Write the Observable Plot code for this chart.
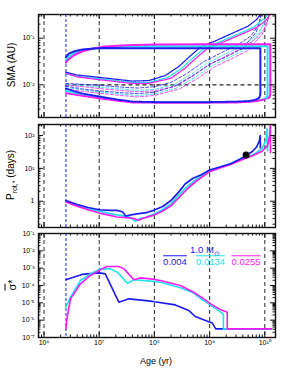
<!DOCTYPE html>
<html><head><meta charset="utf-8">
<script src="https://cdn.jsdelivr.net/npm/d3@7"></script>
<script src="https://cdn.jsdelivr.net/npm/@observablehq/plot@0.6"></script>
<style>
body{margin:0;background:#fff;}
#wrap{position:relative;width:291px;height:376px;overflow:hidden;background:#fff;font-family:"Liberation Sans",Arial,Helvetica,sans-serif;}
#wrap svg{position:absolute;left:0;}
.lab{position:absolute;white-space:nowrap;color:#000;line-height:1;}
.rot{transform:translate(-50%,-50%) rotate(-90deg);}
.ctr{transform:translate(-50%,-50%);}
.ov{text-decoration:overline;}
</style></head><body><div id="wrap"></div>
<script>
// ---------- data (log10 values) ----------
const metallicities = ["0.004", "0.0134", "0.0255"];
const massLabel = "1.0 M";
const decadeLines = [1e6, 1e7, 1e8, 1e9, 1e10];
const pmsAge = 2.5e6;          // blue dashed vertical (disc dispersal)
const smaRef = 0.01;            // horizontal dashed line in top panel
const sunAge = 4.57e9, sunProt = 25.4;
const xTicks = [1e6, 1e7, 1e8, 1e9, 1e10];
const smaTicks = [0.01, 0.1];
const protTicks = [1, 10, 100];
const sigTicks = [1e-7, 1e-6, 1e-5, 1e-4, 1e-3, 1e-2, 1e-1];

// Panel 1: semi-major axis (log10 age, log10 AU)
const bSolidAge = [6.395, 6.45, 6.55, 6.7, 6.9, 7.1, 7.5, 8.0, 9.0, 9.92, 9.92, 9.905, 9.87];
const bSolidSma = [-1.41, -1.33, -1.28, -1.24, -1.22, -1.21, -1.215, -1.215, -1.215, -1.215, -2.2, -2.27, -2.30];
const cSolidAge = [6.395, 6.45, 6.55, 6.7, 6.9, 7.1, 7.5, 8.0, 9.0, 10.05, 10.05, 10.04, 10.02];
const cSolidSma = [-1.47, -1.40, -1.32, -1.26, -1.22, -1.20, -1.18, -1.17, -1.17, -1.17, -2.2, -2.26, -2.29];
const mSolidAge = [6.395, 6.45, 6.55, 6.7, 6.9, 7.1, 7.5, 8.0, 9.0, 10.10, 10.10, 10.09, 10.07];
const mSolidSma = [-1.525, -1.45, -1.36, -1.28, -1.22, -1.18, -1.15, -1.135, -1.13, -1.13, -2.2, -2.25, -2.28];

const bBotAge = [6.395, 6.55, 6.7, 7.0, 7.3, 7.6, 8.0, 8.5, 9.0, 9.5, 9.7, 9.8, 9.87];
const bBotSma = [-2.08, -2.14, -2.19, -2.25, -2.31, -2.36, -2.37, -2.37, -2.37, -2.36, -2.35, -2.33, -2.30];
const cBotAge = [6.395, 6.55, 6.7, 7.0, 7.3, 7.6, 8.0, 8.5, 9.0, 9.5, 9.8, 9.95, 10.02];
const cBotSma = [-2.13, -2.18, -2.22, -2.27, -2.33, -2.37, -2.38, -2.38, -2.38, -2.37, -2.35, -2.32, -2.29];
const mBotAge = [6.395, 6.55, 6.7, 7.0, 7.3, 7.6, 8.0, 8.5, 9.0, 9.5, 9.8, 9.95, 10.07];
const mBotSma = [-2.18, -2.21, -2.24, -2.29, -2.34, -2.38, -2.385, -2.385, -2.385, -2.38, -2.36, -2.33, -2.28];

const bTopAge = [6.395, 6.6, 7.0, 7.3, 7.6, 7.9, 8.2, 8.45, 8.65, 8.85, 9.1, 9.4, 9.7, 9.85, 9.92];
const bTopSma = [-1.73, -1.79, -1.84, -1.88, -1.92, -1.91, -1.80, -1.60, -1.38, -1.18, -1.06, -0.90, -0.74, -0.60, -0.49];
const cTopAge = [6.395, 6.6, 7.0, 7.3, 7.6, 7.9, 8.25, 8.5, 8.72, 8.92, 9.2, 9.5, 9.8, 9.97, 10.05];
const cTopSma = [-1.76, -1.82, -1.87, -1.91, -1.95, -1.95, -1.84, -1.64, -1.40, -1.20, -1.07, -0.92, -0.76, -0.60, -0.49];
const mTopAge = [6.395, 6.6, 7.0, 7.3, 7.6, 7.9, 8.3, 8.55, 8.77, 8.97, 9.25, 9.55, 9.85, 10.02, 10.09];
const mTopSma = [-1.75, -1.83, -1.89, -1.93, -1.97, -1.97, -1.86, -1.65, -1.41, -1.21, -1.08, -0.93, -0.77, -0.62, -0.49];

const bD1Age = [6.395, 6.7, 7.0, 7.4, 7.7, 8.0, 8.3, 8.6, 8.9, 9.2, 9.5, 9.75, 9.9, 9.93];
const bD1Sma = [-1.97, -1.99, -2.01, -2.05, -2.07, -2.04, -1.95, -1.75, -1.50, -1.32, -1.15, -0.95, -0.70, -0.49];
const bD2Age = [6.395, 6.7, 7.0, 7.4, 7.7, 8.0, 8.35, 8.7, 9.0, 9.3, 9.6, 9.85, 9.94];
const bD2Sma = [-2.03, -2.09, -2.13, -2.17, -2.19, -2.16, -2.04, -1.80, -1.56, -1.40, -1.22, -0.86, -0.49];
const cD1Age = [6.395, 6.7, 7.0, 7.4, 7.7, 8.0, 8.35, 8.65, 8.95, 9.25, 9.55, 9.8, 9.98, 10.03];
const cD1Sma = [-1.99, -2.02, -2.05, -2.09, -2.12, -2.10, -2.00, -1.79, -1.54, -1.36, -1.19, -0.99, -0.73, -0.49];
const cD2Age = [6.395, 6.7, 7.0, 7.4, 7.7, 8.0, 8.4, 8.75, 9.05, 9.35, 9.65, 9.9, 10.04];
const cD2Sma = [-2.06, -2.11, -2.15, -2.20, -2.23, -2.20, -2.07, -1.83, -1.59, -1.42, -1.24, -0.90, -0.49];
const mD1Age = [6.395, 6.7, 7.0, 7.4, 7.7, 8.0, 8.4, 8.7, 9.0, 9.3, 9.6, 9.85, 10.03, 10.08];
const mD1Sma = [-2.01, -2.04, -2.08, -2.12, -2.15, -2.13, -2.02, -1.81, -1.56, -1.38, -1.21, -1.00, -0.74, -0.49];
const mD2Age = [6.395, 6.7, 7.0, 7.4, 7.7, 8.0, 8.45, 8.8, 9.1, 9.4, 9.7, 9.95, 10.09];
const mD2Sma = [-2.09, -2.14, -2.18, -2.23, -2.26, -2.23, -2.09, -1.85, -1.61, -1.44, -1.26, -0.92, -0.49];

// Panel 2: stellar rotation period (log10 age, log10 days)
const bProtAge = [6.395, 6.6, 6.8, 7.0, 7.2, 7.32, 7.42, 7.48, 7.6, 7.75, 7.85, 8.0, 8.15, 8.3, 8.45, 8.56, 8.7, 8.84, 9.0, 9.2, 9.38, 9.6, 9.7, 9.78, 9.85, 9.9, 9.918, 9.92];
const bProt    = [0.02, -0.10, -0.19, -0.26, -0.28, -0.28, -0.32, -0.45, -0.41, -0.37, -0.35, -0.27, -0.16, 0.02, 0.30, 0.53, 0.70, 0.80, 0.95, 1.05, 1.14, 1.32, 1.43, 1.52, 1.65, 1.82, 2.0, 1.63];
const cProtAge = [6.395, 6.6, 6.8, 7.0, 7.2, 7.4, 7.55, 7.66, 7.75, 7.85, 8.0, 8.15, 8.3, 8.45, 8.6, 8.75, 8.9, 9.0, 9.2, 9.4, 9.6, 9.8, 9.95, 10.02, 10.045, 10.05];
const cProt    = [0.0, -0.13, -0.23, -0.30, -0.38, -0.44, -0.48, -0.61, -0.52, -0.49, -0.38, -0.25, -0.08, 0.20, 0.45, 0.66, 0.82, 0.92, 1.04, 1.15, 1.29, 1.42, 1.60, 1.85, 2.2, 1.54];
const mProtAge = [6.395, 6.6, 6.8, 7.0, 7.2, 7.32, 7.5, 7.62, 7.71, 7.8, 7.9, 8.0, 8.15, 8.3, 8.45, 8.6, 8.75, 8.9, 9.0, 9.2, 9.4, 9.6, 9.8, 9.95, 10.05, 10.09, 10.10, 10.103];
const mProt    = [-0.02, -0.15, -0.26, -0.36, -0.43, -0.48, -0.50, -0.52, -0.58, -0.52, -0.47, -0.42, -0.30, -0.14, 0.12, 0.38, 0.60, 0.78, 0.90, 1.02, 1.13, 1.27, 1.40, 1.52, 1.70, 2.0, 2.33, 1.48];

// Panel 3: mean sigma* (log10 age, log10 sigma)
const bSigAge = [6.395, 6.69, 7.0, 7.11, 7.355, 7.54, 7.93, 8.0, 8.38, 8.62, 8.74, 8.96, 9.05, 9.11, 10.12];
const bSig    = [-3.67, -3.36, -3.27, -3.33, -4.96, -4.77, -4.90, -4.94, -5.12, -5.44, -5.79, -6.06, -6.17, -6.5, -6.5];
const cSigAge = [6.395, 6.48, 6.66, 6.84, 7.02, 7.2, 7.33, 7.51, 7.63, 7.93, 8.11, 8.47, 8.71, 8.87, 9.02, 9.2, 9.25, 9.25, 10.12];
const cSig    = [-5.25, -4.67, -3.71, -3.33, -3.04, -3.04, -3.23, -3.87, -3.67, -3.75, -3.81, -4.13, -4.44, -4.83, -5.15, -5.54, -5.67, -6.5, -6.5];
const mSigAge = [6.395, 6.42, 6.48, 6.66, 6.84, 7.02, 7.14, 7.355, 7.45, 7.63, 7.75, 7.93, 8.11, 8.47, 8.71, 8.87, 9.02, 9.2, 9.32, 9.32, 10.12];
const mSig    = [-6.5, -5.83, -4.77, -3.90, -3.42, -3.10, -2.90, -2.90, -3.04, -3.67, -3.56, -3.62, -3.71, -4.00, -4.39, -4.71, -5.06, -5.40, -5.54, -6.5, -6.5];

// ---------- styling ----------
const BLUE = "#1c1cee", CYAN = "#1fe3ef", MAG = "#f51cf0";
const GRID = "#3c3c3c";
const W = 291, ML = 38, MR = 16;
const xDomain = [10 ** 5.9, 10 ** 10.194];

const pts = (ages, vals) => ages.map((a, i) => ({x: 10 ** a, y: 10 ** vals[i]}));
const supMap = {"-": "\u207b", "0": "\u2070", "1": "\u00b9", "2": "\u00b2", "3": "\u00b3", "4": "\u2074", "5": "\u2075", "6": "\u2076", "7": "\u2077", "8": "\u2078", "9": "\u2079"};
const fmt = v => { const e = Math.round(Math.log10(v)); return e === 0 ? "1" : "10" + String(e).split("").map(c => supMap[c]).join(""); };
function minors(lo, hi) {
  const out = [];
  for (let k = Math.floor(Math.log10(lo)); k <= Math.ceil(Math.log10(hi)); k++)
    for (let m = 2; m <= 9; m++) { const v = m * 10 ** k; if (v > lo && v < hi) out.push(v); }
  return out;
}
function decs(lo, hi) {
  const out = [];
  for (let k = Math.ceil(Math.log10(lo) - 1e-9); k <= Math.floor(Math.log10(hi) + 1e-9); k++) out.push(10 ** k);
  return out;
}
function tickMarks(ydom, fh, fw) {
  const xm = decs(...xDomain), xn = minors(...xDomain);
  const ym = decs(...ydom), yn = minors(...ydom);
  const s = {stroke: "#111", strokeWidth: 1};
  return [
    Plot.tickX(xm, {...s, insetTop: fh - 5}), Plot.tickX(xm, {...s, insetBottom: fh - 5}),
    Plot.tickX(xn, {...s, insetTop: fh - 2.5}), Plot.tickX(xn, {...s, insetBottom: fh - 2.5}),
    Plot.tickY(ym, {...s, insetRight: fw - 5}), Plot.tickY(ym, {...s, insetLeft: fw - 5}),
    Plot.tickY(yn, {...s, insetRight: fw - 2.5}), Plot.tickY(yn, {...s, insetLeft: fw - 2.5})
  ];
}
function guides() {
  return [
    Plot.ruleX(decadeLines, {stroke: GRID, strokeWidth: 1.1, strokeDasharray: "4,3"}),
    Plot.ruleX([pmsAge], {stroke: BLUE, strokeWidth: 1, strokeDasharray: "3,2"})
  ];
}
const ln = (d, stroke, sw, dash) => Plot.line(d, {x: "x", y: "y", stroke, strokeWidth: sw, strokeDasharray: dash, strokeLinejoin: "round"});

function panel({top, height, mt, mb, ydom, yTicks, marks, xAxis}) {
  const fh = height - mt - mb, fw = W - ML - MR;
  const svg = Plot.plot({
    width: W, height, marginLeft: ML, marginRight: MR, marginTop: mt, marginBottom: mb,
    style: {fontFamily: "'Liberation Sans', Arial, sans-serif", background: "transparent", overflow: "visible"},
    x: {type: "log", domain: xDomain, axis: null},
    y: {type: "log", domain: ydom, axis: null},
    marks: [
      ...guides(),
      ...marks,
      ...tickMarks(ydom, fh, fw),
      Plot.axisY({ticks: yTicks, tickFormat: fmt, tickSize: 0, tickPadding: 4, fontSize: 7, label: null}),
      ...(xAxis ? [Plot.axisX({ticks: xTicks, tickFormat: fmt, tickSize: 0, tickPadding: 3, fontSize: 7, label: null})] : []),
      Plot.frame({stroke: "#111", strokeWidth: 1.4})
    ]
  });
  svg.style.top = top + "px";
  return svg;
}

const wrap = document.getElementById("wrap");

// Panel 1
const p1 = panel({
  top: 0, height: 120, mt: 14, mb: 3, ydom: [10 ** -2.702, 10 ** -0.491], yTicks: smaTicks,
  marks: [
    Plot.ruleY([smaRef], {x1: () => pmsAge, x2: () => xDomain[1], stroke: "#222", strokeWidth: 1.3, strokeDasharray: "4,3"}),
    ln(pts(cD1Age, cD1Sma), CYAN, 0.8, "3,2"), ln(pts(cD2Age, cD2Sma), CYAN, 0.8, "3,2"),
    ln(pts(mD1Age, mD1Sma), MAG, 0.8, "3,2"), ln(pts(mD2Age, mD2Sma), MAG, 0.8, "3,2"),
    ln(pts(bD1Age, bD1Sma), BLUE, 0.8, "3,2"), ln(pts(bD2Age, bD2Sma), BLUE, 0.8, "3,2"),
    ln(pts(cTopAge, cTopSma), CYAN, 1.3, "1,1"), ln(pts(mTopAge, mTopSma), MAG, 1.3, "1,1"), ln(pts(bTopAge, bTopSma), BLUE, 1.3, "1,1"),
    ln(pts(cBotAge, cBotSma), CYAN, 1.8, "1.2,0.8"), ln(pts(mBotAge, mBotSma), MAG, 1.8, "1.2,0.8"), ln(pts(bBotAge, bBotSma), BLUE, 1.8, "1.2,0.8"),
    ln(pts(cSolidAge, cSolidSma), CYAN, 2), ln(pts(mSolidAge, mSolidSma), MAG, 2), ln(pts(bSolidAge, bSolidSma), BLUE, 2)
  ]
});
wrap.appendChild(p1);

// Panel 2
const p2 = panel({
  top: 120, height: 110, mt: 4, mb: 3, ydom: [10 ** -0.80, 10 ** 2.335], yTicks: protTicks,
  marks: [
    ln(pts(cProtAge, cProt), CYAN, 1.7), ln(pts(mProtAge, mProt), MAG, 1.7), ln(pts(bProtAge, bProt), BLUE, 1.7),
    Plot.dot([{x: sunAge, y: sunProt}], {x: "x", y: "y", r: 3.5, fill: "#000"})
  ]
});
wrap.appendChild(p2);

// Panel 3
const p3 = panel({
  top: 230, height: 146, mt: 3, mb: 39, ydom: [1e-7, 1e-1], yTicks: sigTicks, xAxis: true,
  marks: [
    ln(pts(bSigAge, bSig), BLUE, 1.6), ln(pts(cSigAge, cSig), CYAN, 1.6), ln(pts(mSigAge, mSig), MAG, 1.6)
  ]
});
wrap.appendChild(p3);

// Labels
function lab(html, x, y, cls, size, color) {
  const d = document.createElement("div");
  d.className = "lab " + cls;
  d.style.left = x + "px"; d.style.top = y + "px";
  d.style.fontSize = size + "px";
  if (color) d.style.color = color;
  d.innerHTML = html;
  wrap.appendChild(d);
}
lab("SMA (AU)", 12, 65, "rot", 10);
lab("P<sub style='font-size:7px'>rot,*</sub> (days)", 12, 175, "rot", 10);
lab("<span class='ov'>\u03c3</span>*", 12, 285, "rot", 11);
lab("Age (yr)", 156, 361, "ctr", 9);
lab(massLabel + "<sub style='font-size:7px'>\u2299</sub>", 205, 251, "ctr", 9.5, BLUE);
lab(metallicities[0], 175, 262, "ctr ov", 9.5, BLUE);
lab(metallicities[1], 210.5, 262, "ctr ov", 9.5, CYAN);
lab(metallicities[2], 246, 262, "ctr ov", 9.5, MAG);
</script></body></html>
